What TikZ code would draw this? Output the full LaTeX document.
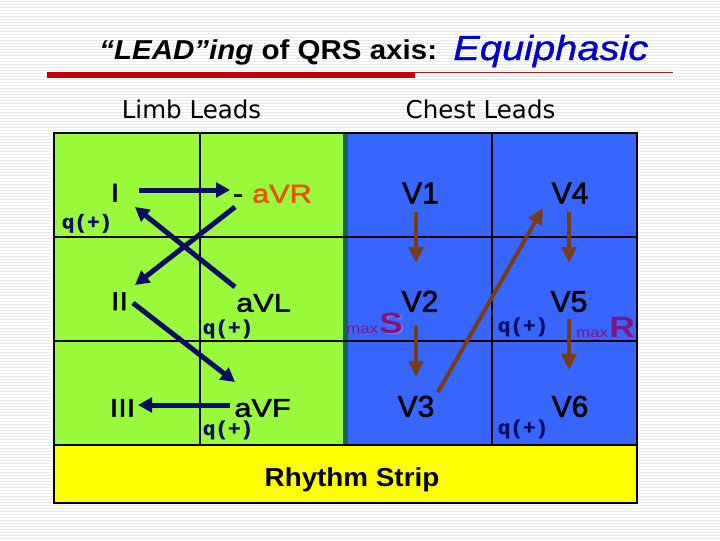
\documentclass[tikz,border=0pt]{standalone}
\usepackage{fontspec}
\setmainfont{Liberation Sans}
\newfontfamily\titf[FakeStretch=1.08]{Liberation Sans}
\newfontfamily\eqf[FakeStretch=1.15,FakeBold=1]{Liberation Sans}
\newfontfamily\labf[FakeStretch=1.2,FakeBold=2]{Liberation Sans}
\newfontfamily\maxf[FakeStretch=1.2]{Liberation Sans}
\newfontfamily\vf[FakeBold=2]{Liberation Sans}
\newfontfamily\rhf[FakeStretch=1.07]{Liberation Sans}
\newfontfamily\dejf{DejaVu Sans}
\newfontfamily\qfont[FakeStretch=1.05,FakeBold=1.5]{Liberation Mono}
\usetikzlibrary{arrows.meta,calc}
\definecolor{cGreen}{RGB}{153,250,60}
\definecolor{cBlue}{RGB}{55,102,255}
\definecolor{cTeal}{RGB}{20,100,90}
\definecolor{cYellow}{RGB}{255,255,0}
\definecolor{cNavy}{RGB}{12,12,100}
\definecolor{cBrown}{RGB}{122,60,18}
\definecolor{cOrange}{RGB}{236,80,10}
\definecolor{cPurple}{RGB}{130,20,130}
\definecolor{cShadow}{RGB}{160,120,210}
\definecolor{cRed}{RGB}{192,0,0}
\definecolor{cThinRed}{RGB}{150,40,40}
\definecolor{cEq}{RGB}{0,0,200}
\definecolor{cStripe}{RGB}{234,234,234}
\begin{document}
\begin{tikzpicture}[x=0.75pt,y=-0.75pt,
  stripe/.style={draw=cStripe,line width=0.75pt},
  gridline/.style={draw=black,line width=1.5pt},
  lab/.style={inner sep=0pt,anchor=base,font=\labf\fontsize{19.2pt}{20pt}\selectfont},
  vlab/.style={inner sep=0pt,anchor=base,font=\vf\fontsize{22.5pt}{24pt}\selectfont},
  qlab/.style={inner sep=0pt,anchor=base,text=cNavy,font=\qfont\bfseries\fontsize{15pt}{16pt}\selectfont},
  maxlab/.style={inner sep=0pt,anchor=base west,text=cPurple,font=\maxf\fontsize{10.5pt}{12pt}\selectfont},
  biglet/.style={inner sep=0pt,anchor=base west,font=\maxf\bfseries\fontsize{22pt}{24pt}\selectfont},
  headlab/.style={inner sep=0pt,anchor=base,font=\dejf\fontsize{18.4pt}{20pt}\selectfont},
  navyarr/.style={draw=cNavy,line width=3.75pt,-{Triangle[length=10.5pt,width=11pt]}},
  brownarr/.style={draw=cBrown,line width=3pt,-{Triangle[length=12pt,width=11pt]}}]
\useasboundingbox (0,0) rectangle (720,540);
\fill[white] (0,0) rectangle (720,540);
\foreach \yy in {1,4,...,540} \draw[stripe] (0,\yy) -- (720,\yy);

% title
\fill[cRed] (47,72) rectangle (415,78);
\draw[cThinRed,line width=0.75pt] (415,72) -- (673,72);
\node[inner sep=0pt,anchor=base west,font=\titf\bfseries\fontsize{20.5pt}{22pt}\selectfont] (title) at (99,59) {\itshape “LEAD”ing\upshape{} of QRS axis:};
\node[inner sep=0pt,anchor=base west,text=cEq,font=\eqf\itshape\fontsize{26pt}{28pt}\selectfont] (equi) at (453,60) {Equiphasic};

\node[headlab] (limb) at (191.5,118) {Limb Leads};
\node[headlab] (chest) at (480.5,118) {Chest Leads};

% table
\fill[cGreen] (54,133) rectangle (343,445);
\fill[cBlue] (343,133) rectangle (637,445);
\fill[cTeal] (343,133) rectangle (348,445);
\fill[cYellow] (54,445) rectangle (637,503);
\draw[gridline] (54,237) -- (637,237);
\draw[gridline] (54,341) -- (637,341);
\draw[gridline] (54,445) -- (637,445);
\draw[gridline] (200,133) -- (200,445);
\draw[gridline] (492,133) -- (492,445);
\draw[gridline] (54,133) rectangle (637,503);

% limb labels
\node[lab] (nI) at (115,201.5) {I};
\node[lab] (minus) at (238,202.5) {-};
\node[lab,text=cOrange] (aVR) at (282,202.5) {aVR};
\node[lab] (nII) at (119.5,310) {II};
\node[lab] (aVL) at (263.5,311.7) {aVL};
\node[lab] (nIII) at (122.5,416.7) {III};
\node[lab] (aVF) at (262.5,416.7) {aVF};
\node[qlab] (q1) at (87,228.5) {q(+)};
\node[qlab] (q2) at (228,334) {q(+)};
\node[qlab] (q3) at (228,435) {q(+)};

% chest labels
\node[vlab] (V1) at (420.5,203.3) {V1};
\node[vlab] (V2) at (420,311.7) {V2};
\node[vlab] (V3) at (416,416.7) {V3};
\node[vlab] (V4) at (570,203.3) {V4};
\node[vlab] (V5) at (569,311.7) {V5};
\node[vlab] (V6) at (570,416.7) {V6};
\node[qlab] (q4) at (523,332) {q(+)};
\node[qlab] (q5) at (523,434) {q(+)};
\node[maxlab] (maxS) at (346,333) {max};
\node[biglet,text=cShadow] (Ssh) at (380.5,334.5) {S};
\node[biglet,text=cPurple] (S) at (379,333) {S};
\node[maxlab] (maxR) at (576,337) {max};
\node[biglet,text=cPurple] (R) at (609,337) {R};

\node[inner sep=0pt,anchor=base,font=\rhf\bfseries\fontsize{19.5pt}{21pt}\selectfont] (rhythm) at (352,486) {Rhythm Strip};

% limb arrows
\draw[navyarr] ($(nI.base)+(24,-11.5)$) -- ($(minus.base)+(-8,-12.5)$);
\draw[navyarr] ($(minus.base)+(-3,4.5)$) -- ($(nII.base)+(15.5,-25)$);
\draw[navyarr] ($(aVL.base)+(-28.5,-24.7)$) -- ($(nI.base)+(20,5.5)$);
\draw[navyarr] ($(nII.base)+(13.5,-7)$) -- ($(aVF.base)+(-27.5,-34.7)$);
\draw[navyarr] ($(aVF.base)+(-32.5,-11.7)$) -- ($(nIII.base)+(15.5,-11.7)$);

% chest arrows
\draw[brownarr] ($(V1.base)+(-4.5,8.7)$) -- ($(V2.base)+(-4,-48.7)$);
\draw[brownarr] ($(V2.base)+(-4,13.3)$) -- ($(V3.base)+(0,-39.7)$);
\draw[brownarr] ($(V3.base)+(22,-24.7)$) -- ($(V4.base)+(-27,4.7)$);
\draw[brownarr] ($(V4.base)+(-1,8.7)$) -- ($(V5.base)+(0,-48.7)$);
\draw[brownarr] ($(V5.base)+(0,7.3)$) -- ($(V6.base)+(-1,-46.7)$);
\end{tikzpicture}
\end{document}
